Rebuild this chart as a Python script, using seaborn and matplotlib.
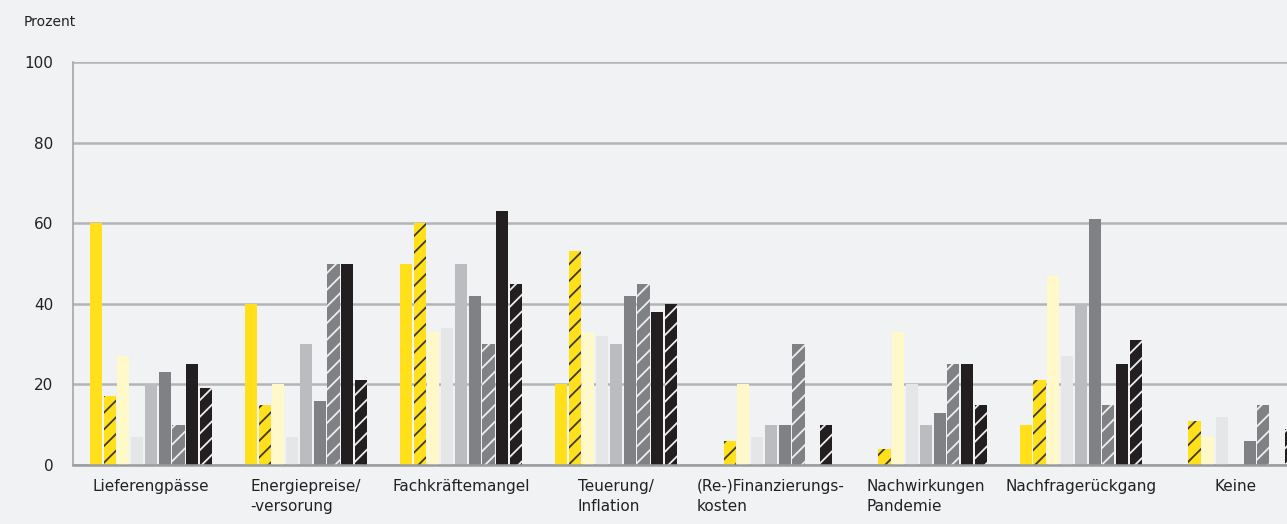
import numpy as np
import pandas as pd
import matplotlib
matplotlib.use("Agg")
import matplotlib.pyplot as plt
import seaborn as sns

categories = ["Lieferengpässe", "Energiepreise/\n-versorung", "Fachkräftemangel",
              "Teuerung/\nInflation", "(Re-)Finanzierungs-\nkosten",
              "Nachwirkungen\nPandemie", "Nachfragerückgang", "Keine"]
series = ["Serie 1", "Serie 2", "Serie 3", "Serie 4", "Serie 5",
          "Serie 6", "Serie 7", "Serie 8", "Serie 9"]
s1 = [60, 40, 50, 20, 0, 0, 10, 0]
s2 = [17, 15, 60, 53, 6, 4, 21, 11]
s3 = [27, 20, 33, 33, 20, 33, 47, 7]
s4 = [7, 7, 34, 32, 7, 20, 27, 12]
s5 = [20, 30, 50, 30, 10, 10, 40, 0]
s6 = [23, 16, 42, 42, 10, 13, 61, 6]
s7 = [10, 50, 30, 45, 30, 25, 15, 15]
s8 = [25, 50, 63, 38, 0, 25, 25, 0]
s9 = [19, 21, 45, 40, 10, 15, 31, 9]
yticks = [0, 20, 40, 60, 80, 100]

values = [s1, s2, s3, s4, s5, s6, s7, s8, s9]
rows = []
for name, vals in zip(series, values):
    for c, v in zip(categories, vals):
        rows.append({"Kategorie": c, "Serie": name, "Wert": v})
df = pd.DataFrame(rows)

face = ["#FFE01A", "#FFE01A", "#FFF8C9", "#E5E6E8", "#BBBCBF",
        "#808184", "#808184", "#231F20", "#231F20"]
hatches = [None, "//", None, None, None, None, "//", None, "//"]
hatch_col = [None, "#3A3A2A", None, None, None, None, "#EDEDED", None, "#EDEDED"]

bg = "#F1F2F4"
sns.set_theme(style="white")
plt.rcParams["font.family"] = ["DejaVu Sans"]
plt.rcParams["hatch.linewidth"] = 1.3

fig = plt.figure(figsize=(12.87, 5.24), dpi=100, facecolor=bg)
ax = fig.add_axes([73/1287, 59/524, (1287-73)/1287, 403/524])
ax.set_facecolor(bg)

sns.barplot(data=df, x="Kategorie", y="Wert", hue="Serie", order=categories,
            hue_order=series, palette=face, width=0.8, gap=0.12,
            legend=False, ax=ax, saturation=1)

for i, cont in enumerate(ax.containers):
    for p in cont:
        p.set_linewidth(0)
        if hatches[i]:
            p.set_hatch(hatches[i])
            p.set_edgecolor(hatch_col[i])
            p.set_linewidth(0)

ax.set_ylim(0, 100)
ax.set_xlim(-0.503, 7.33)
ax.set_yticks(yticks)
ax.set_yticklabels([str(t) for t in yticks], fontsize=11, color="#222222")
ax.yaxis.grid(True, color="#B3B4B7", linewidth=1.8)
ax.set_axisbelow(True)
for s in ["top", "right"]:
    ax.spines[s].set_visible(False)
ax.spines["left"].set_color("#A5A6A9")
ax.spines["left"].set_linewidth(1.2)
ax.spines["bottom"].set_color("#9A9B9E")
ax.spines["bottom"].set_linewidth(1.8)
ax.tick_params(axis="y", length=0, pad=14)
ax.tick_params(axis="x", length=0, pad=10)
ax.set_xticks(range(len(categories)))
ax.set_xticklabels(categories, fontsize=11, color="#222222",
                   multialignment="left", va="top", linespacing=1.45)
ax.set_xlabel("")
ax.set_ylabel("")

fig.text(24/1287, 1 - 22/524, "Prozent", fontsize=10, color="#222222",
         ha="left", va="center")

fig.savefig("out.png", dpi=100, facecolor=bg)
